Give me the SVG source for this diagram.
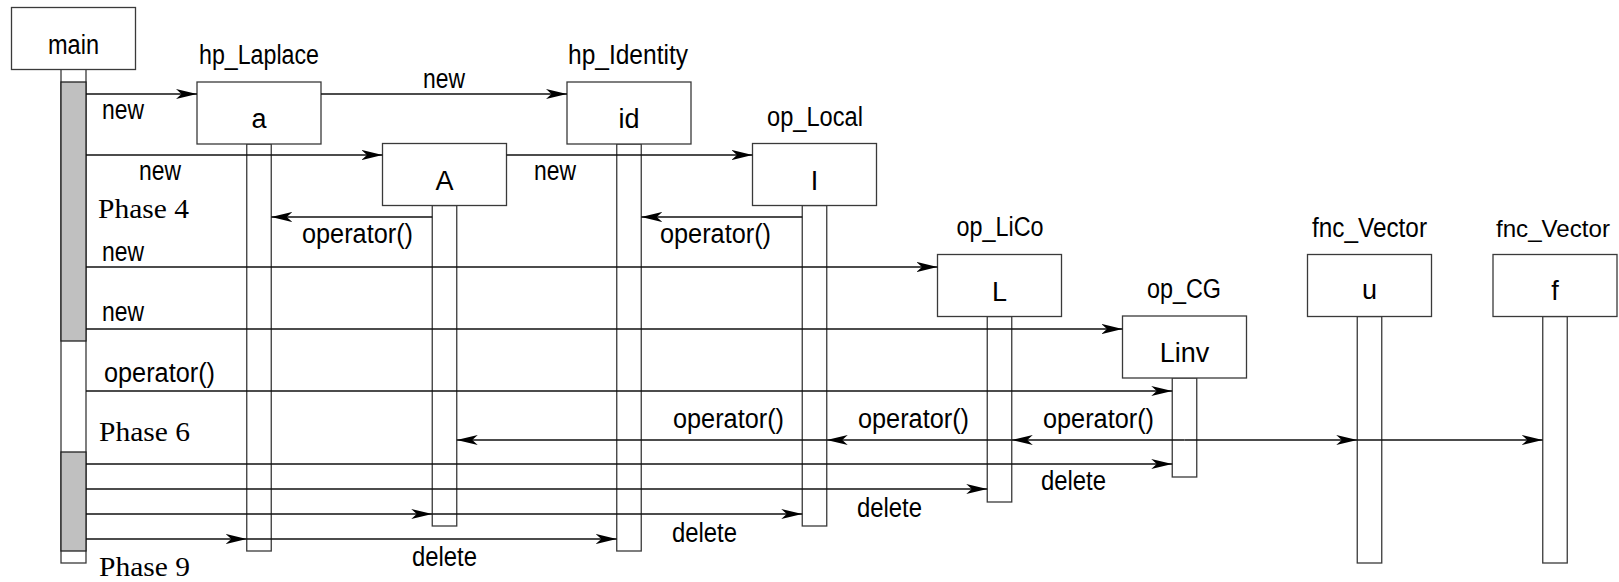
<svg xmlns="http://www.w3.org/2000/svg" width="1619" height="582" viewBox="0 0 1619 582">
  <style>
    .box { fill: #fff; stroke: #3a3a3a; stroke-width: 1.3; }
    .life { fill: #fff; stroke: #3a3a3a; stroke-width: 1.3; }
    .act { fill: #c0c0c0; stroke: #222; stroke-width: 1.3; }
    .msg { fill: none; stroke: #111; stroke-width: 1.3; marker-end: url(#arr); }
    .t { font-family: "Liberation Sans", Arial, sans-serif; font-size: 27px; fill: #000; }
    .c { text-anchor: middle; }
    .ph { font-family: "Liberation Serif", "Times New Roman", serif; font-size: 28px; fill: #000; }
  </style>
  <defs>
    <marker id="arr" markerUnits="userSpaceOnUse" markerWidth="23" markerHeight="12" refX="21" refY="6" orient="auto">
      <path d="M0,1 L21,6 L0,11 L5.5,6 Z" fill="#000"/>
    </marker>
  </defs>

  <!-- main -->
  <g id="main">
    <rect class="life" x="61" y="69" width="25" height="494"/>
    <rect class="act" x="61" y="82" width="25" height="259"/>
    <rect class="act" x="61" y="452" width="25" height="99"/>
    <rect class="box" x="11.5" y="7.5" width="124" height="62"/>
    <text class="t c" x="73.5" y="54" textLength="51" lengthAdjust="spacingAndGlyphs">main</text>
  </g>

  <!-- a : hp_Laplace -->
  <g id="node-a">
    <rect class="life" x="246.75" y="144" width="24.5" height="407"/>
    <rect class="box" x="197" y="82" width="124" height="62"/>
    <text class="t c" x="259" y="64" textLength="120" lengthAdjust="spacingAndGlyphs">hp_Laplace</text>
    <text class="t c" x="259" y="128">a</text>
  </g>

  <!-- id : hp_Identity -->
  <g id="node-id">
    <rect class="life" x="616.75" y="144" width="24.5" height="407"/>
    <rect class="box" x="567" y="82" width="124" height="62"/>
    <text class="t c" x="628" y="64" textLength="120" lengthAdjust="spacingAndGlyphs">hp_Identity</text>
    <text class="t c" x="629" y="128">id</text>
  </g>

  <!-- A -->
  <g id="node-A">
    <rect class="life" x="432.25" y="205.5" width="24.5" height="320.5"/>
    <rect class="box" x="382.5" y="143.5" width="124" height="62"/>
    <text class="t c" x="444.5" y="190">A</text>
  </g>

  <!-- I : op_Local -->
  <g id="node-I">
    <rect class="life" x="802.25" y="205.5" width="24.5" height="320.5"/>
    <rect class="box" x="752.5" y="143.5" width="124" height="62"/>
    <text class="t c" x="815" y="126" textLength="96" lengthAdjust="spacingAndGlyphs">op_Local</text>
    <text class="t c" x="814.5" y="190">I</text>
  </g>

  <!-- L : op_LiCo -->
  <g id="node-L">
    <rect class="life" x="987.25" y="316.5" width="24.5" height="185.5"/>
    <rect class="box" x="937.5" y="254.5" width="124" height="62"/>
    <text class="t c" x="1000" y="236" textLength="87" lengthAdjust="spacingAndGlyphs">op_LiCo</text>
    <text class="t c" x="999.5" y="301">L</text>
  </g>

  <!-- Linv : op_CG -->
  <g id="node-Linv">
    <rect class="life" x="1172.25" y="378" width="24.5" height="99"/>
    <rect class="box" x="1122.5" y="316" width="124" height="62"/>
    <text class="t c" x="1184" y="298" textLength="74" lengthAdjust="spacingAndGlyphs">op_CG</text>
    <text class="t c" x="1184.5" y="362">Linv</text>
  </g>

  <!-- u : fnc_Vector -->
  <g id="node-u">
    <rect class="life" x="1357.25" y="316.5" width="24.5" height="246.5"/>
    <rect class="box" x="1307.5" y="254.5" width="124" height="62"/>
    <text class="t c" x="1369.5" y="237" textLength="115" lengthAdjust="spacingAndGlyphs">fnc_Vector</text>
    <text class="t c" x="1369.5" y="299">u</text>
  </g>

  <!-- f : fnc_Vector -->
  <g id="node-f">
    <rect class="life" x="1542.75" y="316.5" width="24.5" height="246.5"/>
    <rect class="box" x="1493" y="254.5" width="124" height="62"/>
    <text class="t c" x="1553" y="237" style="font-size:24.5px" textLength="114" lengthAdjust="spacingAndGlyphs">fnc_Vector</text>
    <text class="t c" x="1555" y="300">f</text>
  </g>

  <!-- messages -->
  <g id="connectors">
    <path class="msg" d="M86,94 H197"/>
    <path class="msg" d="M321,94 H567"/>
    <path class="msg" d="M86,155 H382.5"/>
    <path class="msg" d="M506.5,155 H752.5"/>
    <path class="msg" d="M432.25,217 H271.25"/>
    <path class="msg" d="M802.25,217 H641.25"/>
    <path class="msg" d="M86,267 H937.5"/>
    <path class="msg" d="M86,329 H1122.5"/>
    <path class="msg" d="M86,391 H1172.25"/>
    <path class="msg" d="M1184.5,440 H1011.75"/>
    <path class="msg" d="M1011.75,440 H826.75"/>
    <path class="msg" d="M826.75,440 H456.75"/>
    <path class="msg" d="M1184.5,440 H1357.25"/>
    <path class="msg" d="M1357.25,440 H1542.75"/>
    <path class="msg" d="M86,464 H1172.25"/>
    <path class="msg" d="M86,489 H987.25"/>
    <path class="msg" d="M86,514 H432.25"/>
    <path class="msg" d="M432.25,514 H802.25"/>
    <path class="msg" d="M86,539 H246.75"/>
    <path class="msg" d="M246.75,539 H616.75"/>
  </g>

  <!-- message labels -->
  <g id="labels">
    <text class="t" x="102" y="119" textLength="42" lengthAdjust="spacingAndGlyphs">new</text>
    <text class="t" x="423" y="88" textLength="42" lengthAdjust="spacingAndGlyphs">new</text>
    <text class="t" x="139" y="180" textLength="42" lengthAdjust="spacingAndGlyphs">new</text>
    <text class="t" x="534" y="180" textLength="42" lengthAdjust="spacingAndGlyphs">new</text>
    <text class="t" x="102" y="261" textLength="42" lengthAdjust="spacingAndGlyphs">new</text>
    <text class="t" x="102" y="321" textLength="42" lengthAdjust="spacingAndGlyphs">new</text>
    <text class="t" x="302" y="243" textLength="111" lengthAdjust="spacingAndGlyphs">operator()</text>
    <text class="t" x="660" y="243" textLength="111" lengthAdjust="spacingAndGlyphs">operator()</text>
    <text class="t" x="104" y="382" textLength="111" lengthAdjust="spacingAndGlyphs">operator()</text>
    <text class="t" x="673" y="428" textLength="111" lengthAdjust="spacingAndGlyphs">operator()</text>
    <text class="t" x="858" y="428" textLength="111" lengthAdjust="spacingAndGlyphs">operator()</text>
    <text class="t" x="1043" y="428" textLength="111" lengthAdjust="spacingAndGlyphs">operator()</text>
    <text class="t" x="1041" y="490" textLength="65" lengthAdjust="spacingAndGlyphs">delete</text>
    <text class="t" x="857" y="517" textLength="65" lengthAdjust="spacingAndGlyphs">delete</text>
    <text class="t" x="672" y="542" textLength="65" lengthAdjust="spacingAndGlyphs">delete</text>
    <text class="t" x="412" y="566" textLength="65" lengthAdjust="spacingAndGlyphs">delete</text>
  </g>

  <!-- phase markers -->
  <g id="phases">
    <text class="ph" x="98" y="218" textLength="91" lengthAdjust="spacingAndGlyphs">Phase 4</text>
    <text class="ph" x="99" y="441" textLength="91" lengthAdjust="spacingAndGlyphs">Phase 6</text>
    <text class="ph" x="99" y="576" textLength="91" lengthAdjust="spacingAndGlyphs">Phase 9</text>
  </g>
</svg>
